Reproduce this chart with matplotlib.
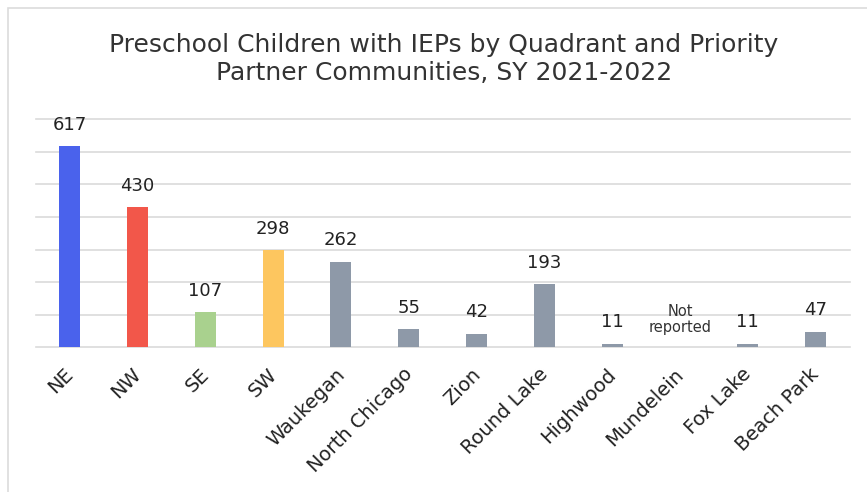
import matplotlib
matplotlib.use("Agg")
import matplotlib.pyplot as plt
import matplotlib.transforms as mtransforms
from matplotlib.patches import Rectangle

categories = ["NE", "NW", "SE", "SW", "Waukegan", "North Chicago", "Zion",
              "Round Lake", "Highwood", "Mundelein", "Fox Lake", "Beach Park"]
values = [617, 430, 107, 298, 262, 55, 42, 193, 11, None, 11, 47]
colors = ["#4a62ec", "#f2574a", "#a9d18e", "#fdc65f", "#8e99a8", "#8e99a8",
          "#8e99a8", "#8e99a8", "#8e99a8", "#8e99a8", "#8e99a8", "#8e99a8"]
missing_label = "Not\nreported"
title = "Preschool Children with IEPs by Quadrant and Priority\nPartner Communities, SY 2021-2022"

plt.rcParams["font.family"] = ["DejaVu Sans"]

W, H = 867, 492
fig = plt.figure(figsize=(W / 100, H / 100), dpi=100)
fig.patch.set_facecolor("white")

# outer frame (top and left edges visible)
fig.add_artist(Rectangle((8 / W, -0.1), 1.2, (H - 8) / H + 0.1,
                         transform=fig.transFigure, fill=False,
                         edgecolor="#dcdcdc", linewidth=1.2))

ax = fig.add_axes([35.8 / W, 1 - 347.3 / H, (849.5 - 35.8) / W, (347.3 - 119.3) / H])
x = list(range(len(categories)))
heights = [v if v is not None else 0 for v in values]
ax.bar(x, heights, width=0.31, color=colors, zorder=3)

ax.set_xlim(-0.5, len(categories) - 0.5)
ax.set_ylim(0, 700)
ax.set_yticks(range(0, 701, 100))
ax.yaxis.grid(True, color="#dadada", linewidth=1.2, zorder=0)
for gl in ax.get_ygridlines():
    gl.set_clip_on(False)
ax.tick_params(axis="y", left=False, labelleft=False)
ax.tick_params(axis="x", bottom=False, pad=9)
for s in ax.spines.values():
    s.set_visible(False)

ax.set_xticks(x)
ax.set_xticklabels(categories, rotation=45, ha="right", rotation_mode="anchor",
                   fontsize=14, color="#222222")
shift = mtransforms.ScaledTranslation(-6 / 100, 0, fig.dpi_scale_trans)
for lbl in ax.get_xticklabels():
    lbl.set_transform(lbl.get_transform() + shift)

for xi, v in zip(x, values):
    if v is None:
        ax.text(xi, 38, missing_label, ha="center", va="bottom", fontsize=10.5,
                color="#333333", linespacing=1.1)
    else:
        ax.annotate(str(v), (xi, v), xytext=(0, 9), textcoords="offset points",
                    ha="center", va="bottom", fontsize=13, color="#222222")

fig.text(444 / W, 1 - 59 / H, title, ha="center", va="center", fontsize=18,
         color="#333333", linespacing=1.2)

fig.savefig("out.png", dpi=100)
